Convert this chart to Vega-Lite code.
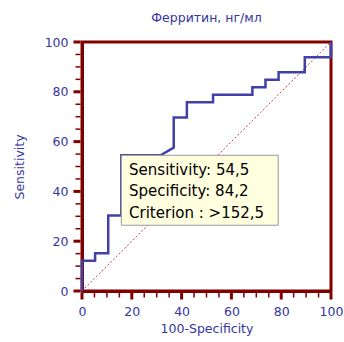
{
  "$schema": "https://vega.github.io/schema/vega-lite/v6.json",
  "width": 249,
  "height": 249,
  "autosize": "none",
  "padding": {"left": 82, "top": 42, "right": 13, "bottom": 51},
  "background": "white",
  "config": {
    "view": {"stroke": "#800000", "strokeWidth": 3},
    "font": "DejaVu Sans"
  },
  "title": {
    "text": "Ферритин, нг/мл",
    "fontSize": 12.5,
    "fontWeight": "normal",
    "color": "#3535a0",
    "font": "DejaVu Sans",
    "offset": 12
  },
  "datasets": {
    "roc": [
      {"i": 0, "fpr": 0, "sens": 0},
      {"i": 1, "fpr": 0, "sens": 12.1},
      {"i": 2, "fpr": 5.26, "sens": 12.1},
      {"i": 3, "fpr": 5.26, "sens": 15.2},
      {"i": 4, "fpr": 10.53, "sens": 15.2},
      {"i": 5, "fpr": 10.53, "sens": 30.3},
      {"i": 6, "fpr": 15.79, "sens": 30.3},
      {"i": 7, "fpr": 15.79, "sens": 54.5},
      {"i": 8, "fpr": 31.58, "sens": 54.5},
      {"i": 9, "fpr": 36.84, "sens": 57.6},
      {"i": 10, "fpr": 36.84, "sens": 69.7},
      {"i": 11, "fpr": 42.11, "sens": 69.7},
      {"i": 12, "fpr": 42.11, "sens": 75.8},
      {"i": 13, "fpr": 52.63, "sens": 75.8},
      {"i": 14, "fpr": 52.63, "sens": 78.8},
      {"i": 15, "fpr": 68.42, "sens": 78.8},
      {"i": 16, "fpr": 68.42, "sens": 81.8},
      {"i": 17, "fpr": 73.68, "sens": 81.8},
      {"i": 18, "fpr": 73.68, "sens": 84.8},
      {"i": 19, "fpr": 78.95, "sens": 84.8},
      {"i": 20, "fpr": 78.95, "sens": 87.9},
      {"i": 21, "fpr": 89.47, "sens": 87.9},
      {"i": 22, "fpr": 89.47, "sens": 93.9},
      {"i": 23, "fpr": 100, "sens": 93.9},
      {"i": 24, "fpr": 100, "sens": 100}
    ],
    "diag": [
      {"i": 0, "fpr": 0, "sens": 0},
      {"i": 1, "fpr": 100, "sens": 100}
    ],
    "box": [
      {"x1": 15.79, "x2": 78.8, "y1": 54.5, "y2": 26.4}
    ],
    "labels": [
      {"fpr": 18.9, "sens": 46.7, "t": "Sensitivity: 54,5"},
      {"fpr": 18.9, "sens": 38.0, "t": "Specificity: 84,2"},
      {"fpr": 18.9, "sens": 29.3, "t": "Criterion : >152,5"}
    ],
    "major": [{"v": 0}, {"v": 20}, {"v": 40}, {"v": 60}, {"v": 80}, {"v": 100}],
    "minor": [
      {"v": 5}, {"v": 10}, {"v": 15}, {"v": 25}, {"v": 30}, {"v": 35},
      {"v": 45}, {"v": 50}, {"v": 55}, {"v": 65}, {"v": 70}, {"v": 75},
      {"v": 85}, {"v": 90}, {"v": 95}
    ]
  },
  "layer": [
    {
      "data": {"name": "diag"},
      "mark": {"type": "line", "color": "#c05050", "strokeWidth": 1, "strokeDash": [2, 2], "clip": true},
      "encoding": {
        "x": {
          "field": "fpr", "type": "quantitative",
          "scale": {"domain": [0, 100], "nice": false},
          "axis": {
            "title": "100-Specificity",
            "tickCount": 5,
            "grid": false,
            "ticks": false,
            "domainColor": "#800000", "domainWidth": 3,
            "labelColor": "#3535a0", "labelFontSize": 12.5, "labelFont": "DejaVu Sans",
            "labelPadding": 14, "labelFlush": false, "labelOverlap": false,
            "titleColor": "#3535a0", "titleFontSize": 12.5, "titleFontWeight": "normal", "titleFont": "DejaVu Sans",
            "titlePadding": 5
          }
        },
        "y": {
          "field": "sens", "type": "quantitative",
          "scale": {"domain": [0, 100], "nice": false},
          "axis": {
            "title": "Sensitivity",
            "tickCount": 5,
            "grid": false,
            "ticks": false,
            "domainColor": "#800000", "domainWidth": 3,
            "labelColor": "#3535a0", "labelFontSize": 12.5, "labelFont": "DejaVu Sans",
            "labelPadding": 14, "labelFlush": false, "labelOverlap": false,
            "titleColor": "#3535a0", "titleFontSize": 12.5, "titleFontWeight": "normal", "titleFont": "DejaVu Sans",
            "titlePadding": 18
          }
        },
        "order": {"field": "i", "type": "quantitative"}
      }
    },
    {
      "data": {"name": "major"},
      "mark": {"type": "tick", "orient": "vertical", "color": "#800000", "size": 7, "thickness": 3, "yOffset": 5, "opacity": 1},
      "encoding": {
        "x": {"field": "v", "type": "quantitative"},
        "y": {"datum": 0, "type": "quantitative"}
      }
    },
    {
      "data": {"name": "minor"},
      "mark": {"type": "tick", "orient": "vertical", "color": "#800000", "size": 5, "thickness": 1.5, "yOffset": 4, "opacity": 1},
      "encoding": {
        "x": {"field": "v", "type": "quantitative"},
        "y": {"datum": 0, "type": "quantitative"}
      }
    },
    {
      "data": {"name": "major"},
      "mark": {"type": "tick", "orient": "horizontal", "color": "#800000", "size": 7, "thickness": 3, "xOffset": -5, "opacity": 1},
      "encoding": {
        "y": {"field": "v", "type": "quantitative"},
        "x": {"datum": 0, "type": "quantitative"}
      }
    },
    {
      "data": {"name": "minor"},
      "mark": {"type": "tick", "orient": "horizontal", "color": "#800000", "size": 5, "thickness": 1.5, "xOffset": -4, "opacity": 1},
      "encoding": {
        "y": {"field": "v", "type": "quantitative"},
        "x": {"datum": 0, "type": "quantitative"}
      }
    },
    {
      "data": {"name": "roc"},
      "mark": {"type": "line", "color": "#4040a8", "strokeWidth": 2.5, "clip": false},
      "encoding": {
        "x": {"field": "fpr", "type": "quantitative"},
        "y": {"field": "sens", "type": "quantitative"},
        "order": {"field": "i", "type": "quantitative"}
      }
    },
    {
      "data": {"name": "box"},
      "mark": {"type": "rect", "fill": "#ffffe0", "stroke": "#999999", "strokeWidth": 1},
      "encoding": {
        "x": {"field": "x1", "type": "quantitative"},
        "x2": {"field": "x2"},
        "y": {"field": "y1", "type": "quantitative"},
        "y2": {"field": "y2"}
      }
    },
    {
      "data": {"name": "labels"},
      "mark": {"type": "text", "align": "left", "baseline": "alphabetic", "fontSize": 15, "font": "DejaVu Sans", "color": "#000000"},
      "encoding": {
        "x": {"field": "fpr", "type": "quantitative"},
        "y": {"field": "sens", "type": "quantitative"},
        "text": {"field": "t"}
      }
    }
  ]
}
